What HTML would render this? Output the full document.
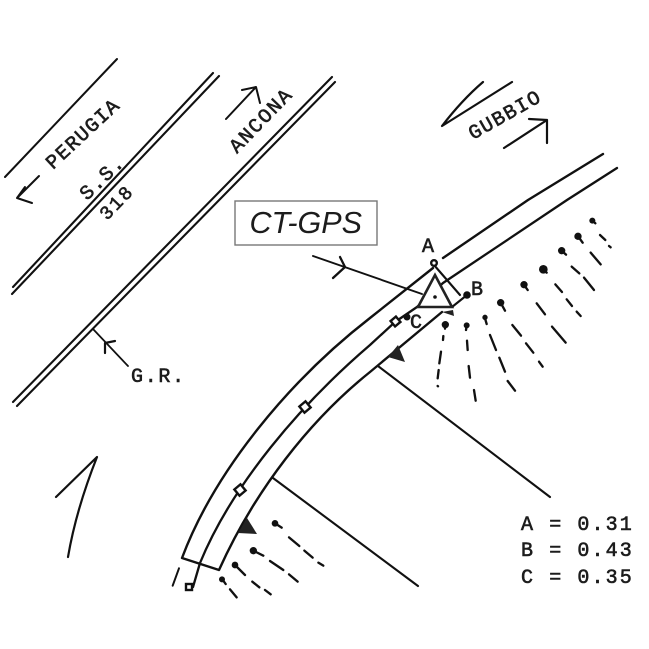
<!DOCTYPE html>
<html>
<head>
<meta charset="utf-8">
<style>
html,body{margin:0;padding:0;background:#fff}
svg{display:block}
text{font-family:"Liberation Mono",monospace;fill:#1c1c1c;stroke:#1c1c1c;stroke-width:.6}
</style>
</head>
<body>
<svg width="649" height="649" viewBox="0 0 649 649" xmlns="http://www.w3.org/2000/svg">
<rect width="649" height="649" fill="#fff"/>
<g fill="none" stroke="#111" stroke-width="2.100" stroke-linecap="round" stroke-linejoin="round">
  <!-- straight roads -->
  <path d="M5 177L117 59" stroke-width="2"/>
  <path d="M13 287L213 73"/>
  <path d="M12 294L219 76"/>
  <path d="M13 402L332 77"/>
  <path d="M17 406L335 82"/>
  <!-- direction arrows -->
  <path d="M39 176L17 198M25 187L17 198L32 203" stroke-width="2"/>
  <path d="M226 119L256 87M242 90L256 87L260 103" stroke-width="2"/>
  <path d="M93 329L128 366" stroke-width="1.800"/>
  <path d="M115 341L105 343L105 353" stroke-width="2.200"/>
  <path d="M56 497L97 457Q76 510 68 557" stroke-width="2.200"/>
  <path d="M483 82Q462 100 442 126L512 82" stroke-width="2.200"/>
  <path d="M504 148L547 120M529 119L547 120L547 143" stroke-width="2.200"/>
  <!-- curved road -->
  <path d="M433 268L370 318C290 380 215 470 182 558L219 570C255 490 310 420 370 372L442 312" stroke-width="2.400"/>
  <path d="M443 258L528 200L603 154" stroke-width="2.400"/>
  <path d="M193 587L200 563C232 485 300 405 370 345L395 322L417 307L443 283L567 200L617 168" stroke-width="2.300"/>
  <!-- perpendicular lines -->
  <path d="M378 366L550 497" stroke-width="2.100"/>
  <path d="M273 478L418 586" stroke-width="2.100"/>
  <!-- CT-GPS pointer -->
  <path d="M313 256L422 294" stroke-width="1.900"/>
  <path d="M340 257L345 267L333 278" stroke-width="2.300"/>
  <path d="M434 265L460 295M452 307L467 295" stroke-width="2.100"/>
</g>
<!-- markers -->
<g fill="#fff" stroke="#111" stroke-width="2.400">
  <rect x="392" y="318" width="7" height="7" transform="rotate(-40 395.500 321.500)"/>
  <rect x="301" y="403" width="8" height="8" transform="rotate(-40 305 407)"/>
  <rect x="236" y="486" width="8" height="8" transform="rotate(-40 240 490)"/>
  <rect x="186" y="584" width="6" height="6"/>
  <circle cx="434" cy="263" r="2.800"/>
</g>
<circle cx="467" cy="295" r="3.800" fill="#111"/>
<circle cx="407" cy="317" r="3.500" fill="#111"/>
<path d="M435 275L418 307L452 307Z" fill="#fff" stroke="#222" stroke-width="2.600" stroke-linejoin="miter"/>
<circle cx="435" cy="297" r="1.800" fill="#111"/>
<!-- wedges -->
<path d="M388 357L398 345L405 362Z" fill="#222"/>
<path d="M238 533L247 518L257 534Z" fill="#222"/>
<path d="M442 312L453 310L454 316Z" fill="#222"/>
<!-- dashes upper -->
<g transform="translate(370,200) scale(.33333)" fill="none" stroke="#111" stroke-width="7" stroke-linecap="round">
  <path d="M220 408L219 420M213 455L208 490M206 510L203 535M203 558L204 559"/>
  <path d="M291 422L293 450M296 498L300 533M312 570L317 602"/>
  <path d="M360 405L378 450M388 473L405 515M413 543L435 572"/>
  <path d="M427 375L453 407M468 430L490 458M507 485L518 500"/>
  <path d="M500 310L525 343M546 380L587 428"/>
  <path d="M556 253L576 276M590 298L606 318M620 335L632 348"/>
  <path d="M605 200L628 220M642 233L672 270"/>
  <path d="M662 158L692 193"/>
  <path d="M690 105L706 120M717 138L722 142"/>
  <path d="M226 375L225 386M290 378L288 390M345 355L350 372M393 310L405 332M463 256L473 270M520 208L530 218M575 152L588 164M625 110L638 128M668 62L676 70"/>
  <g fill="#111" stroke="none">
    <circle cx="226" cy="374" r="11"/><circle cx="290" cy="376" r="9"/><circle cx="345" cy="352" r="8"/><circle cx="392" cy="308" r="11"/><circle cx="462" cy="254" r="11"/><circle cx="520" cy="208" r="13"/><circle cx="575" cy="152" r="11"/><circle cx="624" cy="109" r="11"/><circle cx="667" cy="62" r="9"/>
  </g>
</g>
<!-- dashes lower -->
<g transform="translate(160,400) scale(.33333)" fill="none" stroke="#111" stroke-width="7" stroke-linecap="round">
  <path d="M387 412L418 438M433 452L458 473M475 488L490 497"/>
  <path d="M330 483L370 510M387 523L413 545"/>
  <path d="M277 545L298 562M315 570L332 583"/>
  <path d="M210 568L230 592"/>
  <path d="M38 557L57 505" stroke-width="6"/>
  <path d="M345 370L365 383M280 452L310 467M225 495L255 525M187 538L197 552"/>
  <g fill="#111" stroke="none">
    <circle cx="345" cy="370" r="10"/><circle cx="280" cy="452" r="11"/><circle cx="225" cy="495" r="10"/><circle cx="186" cy="538" r="9"/>
  </g>
</g>
<!-- labels -->
<text x="53" y="170" font-size="20" letter-spacing="1.300" transform="rotate(-43 53 170)">PERUGIA</text>
<text x="87" y="201" font-size="20" letter-spacing="1.500" transform="rotate(-44 87 201)">S.S.</text>
<text x="107" y="221" font-size="19" letter-spacing="2" transform="rotate(-46 107 221)">318</text>
<text x="237" y="154" font-size="20" letter-spacing="1.600" transform="rotate(-46 237 154)">ANCONA</text>
<text x="473" y="140" font-size="20" letter-spacing="1.400" transform="rotate(-29.500 473 140)">GUBBIO</text>
<text x="131" y="382" font-size="20" letter-spacing="1.700">G.R.</text>
<text x="422" y="252" font-size="20">A</text>
<text x="471" y="295" font-size="20">B</text>
<text x="410" y="328" font-size="20">C</text>
<text x="521" y="530" font-size="20" letter-spacing="2.100">A = 0.31</text>
<text x="521" y="556" font-size="20" letter-spacing="2.100">B = 0.43</text>
<text x="521" y="583" font-size="20" letter-spacing="2.100">C = 0.35</text>
<!-- CT-GPS box -->
<rect x="235" y="201" width="142" height="44" fill="#fff" stroke="#777" stroke-width="1.400"/>
<text x="249.500" y="233" font-size="30.500" font-style="italic" style="font-family:'Liberation Sans',sans-serif;stroke:none">CT-GPS</text>
</svg>
</body>
</html>
